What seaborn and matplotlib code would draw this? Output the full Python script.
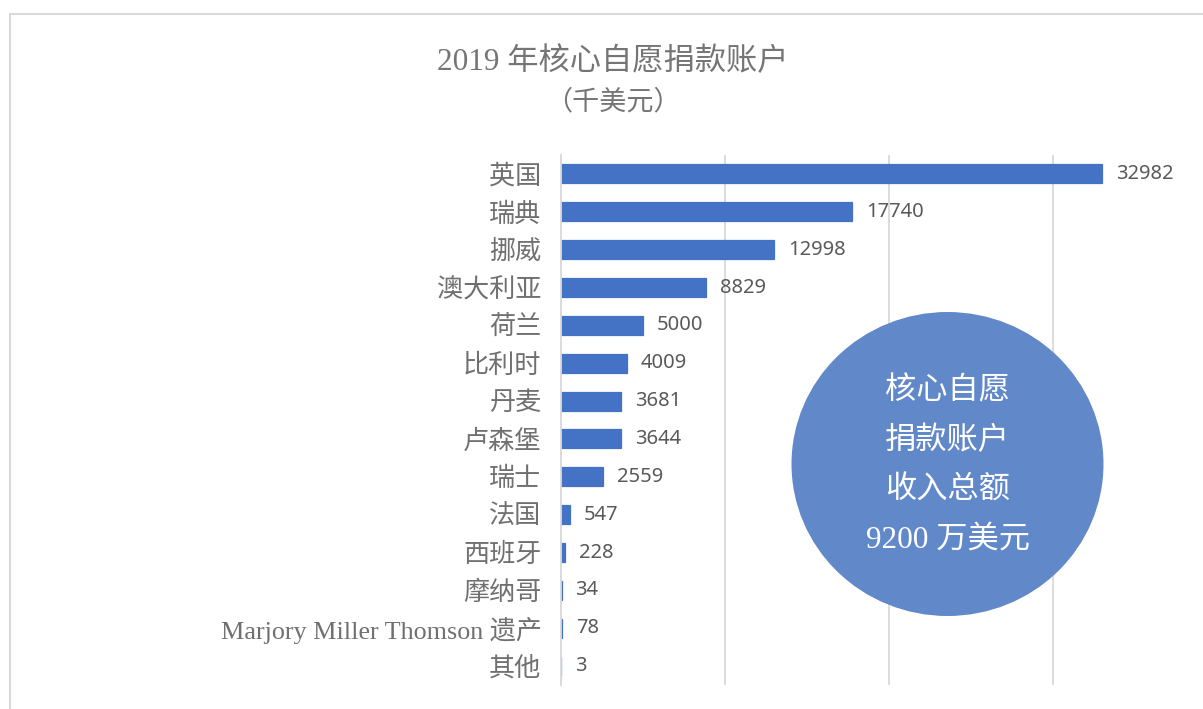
import seaborn as sns
import matplotlib.pyplot as plt
import pandas as pd
from matplotlib.patches import Ellipse, Rectangle

# Data
countries = ['英国', '瑞典', '挪威', '澳大利亚', '荷兰', '比利时', '丹麦', '卢森堡',
             '瑞士', '法国', '西班牙', '摩纳哥', 'Marjory Miller Thomson 遗产', '其他']
amounts = [32982, 17740, 12998, 8829, 5000, 4009, 3681, 3644, 2559, 547, 228, 34, 78, 3]
grid_ticks = [0, 10000, 20000, 30000]
title = '2019 年核心自愿捐款账户'
subtitle = '（千美元）'
bubble_lines = ['核心自愿', '捐款账户', '收入总额', '9200 万美元']

df = pd.DataFrame({'country': countries, 'amount': amounts})

sns.set_theme(style='white')
serif = ['Liberation Serif', 'Noto Sans CJK SC']
sans = ['Noto Sans', 'Noto Sans CJK SC']

W, H = 1203, 709
fig = plt.figure(figsize=(W / 100, H / 100), dpi=100)
ax = fig.add_axes([561 / W, 1 - 685 / H, (1135 - 561) / W, (685 - 155) / H])

sns.barplot(data=df, y='country', x='amount', orient='h', color='#4472C4',
            saturation=1, width=0.5, edgecolor='#4472C4', linewidth=0.9, ax=ax)

ax.set_xlim(0, 35000)
ax.set_ylim(len(countries) - 0.5, -0.5)
ax.set_xticks(grid_ticks)
ax.xaxis.grid(True, color='#D9D9D9', linewidth=1.3)
ax.set_axisbelow(True)
ax.tick_params(axis='x', bottom=False, labelbottom=False)
ax.tick_params(axis='y', left=False, pad=8)
for lab in ax.get_yticklabels():
    lab.set_family(serif)
    lab.set_fontsize(18.8)
    lab.set_color('#707070')
for s in ['top', 'right', 'bottom']:
    ax.spines[s].set_visible(False)
ax.spines['left'].set_color('#D9D9D9')
ax.spines['left'].set_linewidth(1.3)
ax.set(xlabel=None, ylabel=None)

# value labels
for i, v in enumerate(amounts):
    ax.text(v + 850, i, str(v), va='center', ha='left', fontsize=14.5,
            family=sans, color='#595959', clip_on=False)

# titles
fig.text(613 / W, 1 - 62 / H, title, ha='center', va='center', fontsize=22.5,
         family=serif, color='#757575')
fig.text(613 / W, 1 - 103 / H, subtitle, ha='center', va='center', fontsize=19.5,
         family=serif, color='#757575')

# chart border
fig.add_artist(Rectangle((9.5 / W, -0.05), 1.2, 1 - 14 / H + 0.05,
                         transform=fig.transFigure, fill=False,
                         edgecolor='#D9D9D9', linewidth=1.5))

# summary bubble
fig.add_artist(Ellipse((947.5 / W, 1 - 464 / H), 312 / W, 304 / H,
                       transform=fig.transFigure, facecolor='#6188C9',
                       edgecolor='none', zorder=5))
for k, line in enumerate(bubble_lines):
    fig.text(947.5 / W, 1 - (392 + 49.5 * k) / H, line, ha='center', va='center',
             fontsize=22.5, family=serif, color='white', zorder=6)

plt.savefig('out.png', dpi=100)
